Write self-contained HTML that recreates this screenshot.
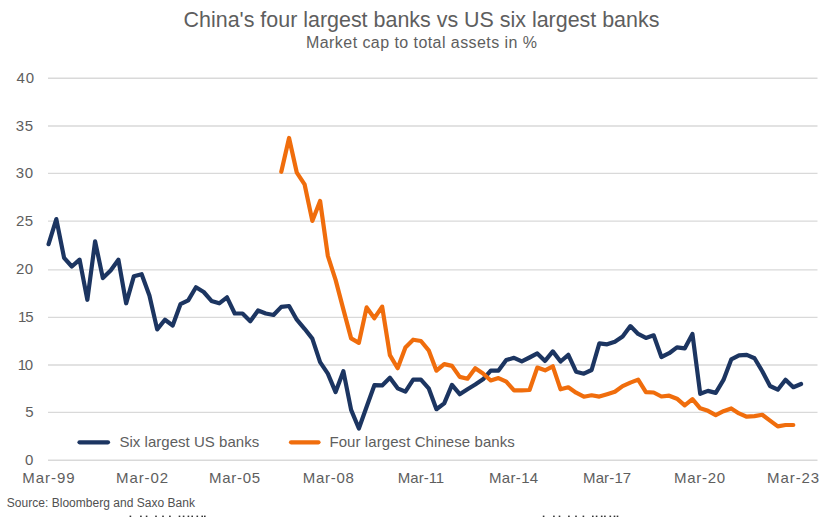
<!DOCTYPE html>
<html><head><meta charset="utf-8"><style>
html,body{margin:0;padding:0;background:#fff;}
body{width:835px;height:517px;overflow:hidden;}
svg{display:block;}
text{font-family:"Liberation Sans",sans-serif;fill:#5e5e5e;}
.ax{font-size:15px;}
.ttl{font-size:21.45px;}
.sub{font-size:16px;}
.lg{font-size:15px;}
.src{font-size:12px;fill:#505050;}
</style></head><body>
<svg width="835" height="517" viewBox="0 0 835 517">
<rect width="835" height="517" fill="#fff"/>
<line x1="48" x2="817.5" y1="460.24" y2="460.24" stroke="#d9d9d9" stroke-width="1.3"/>
<line x1="48" x2="817.5" y1="412.45" y2="412.45" stroke="#d9d9d9" stroke-width="1.3"/>
<line x1="48" x2="817.5" y1="365.00" y2="365.00" stroke="#d9d9d9" stroke-width="1.3"/>
<line x1="48" x2="817.5" y1="317.40" y2="317.40" stroke="#d9d9d9" stroke-width="1.3"/>
<line x1="48" x2="817.5" y1="269.80" y2="269.80" stroke="#d9d9d9" stroke-width="1.3"/>
<line x1="48" x2="817.5" y1="221.20" y2="221.20" stroke="#d9d9d9" stroke-width="1.3"/>
<line x1="48" x2="817.5" y1="173.40" y2="173.40" stroke="#d9d9d9" stroke-width="1.3"/>
<line x1="48" x2="817.5" y1="126.00" y2="126.00" stroke="#d9d9d9" stroke-width="1.3"/>
<line x1="48" x2="817.5" y1="78.24" y2="78.24" stroke="#d9d9d9" stroke-width="1.3"/>

<text x="183.60" y="27.20" class="ttl" textLength="475.80" lengthAdjust="spacing">China's four largest banks vs US six largest banks</text>
<text x="306.00" y="48.20" class="sub" textLength="231.00" lengthAdjust="spacing">Market cap to total assets in %</text>
<text x="119.40" y="446.60" class="lg" textLength="139.80" lengthAdjust="spacing">Six largest US banks</text>
<text x="329.40" y="446.60" class="lg" textLength="185.40" lengthAdjust="spacing">Four largest Chinese banks</text>
<text x="6.80" y="507.20" class="src" textLength="188.20" lengthAdjust="spacing">Source: Bloomberg and Saxo Bank</text>
<text x="22.20" y="483.20" class="ax" textLength="52.40" lengthAdjust="spacing">Mar-99</text>
<text x="116.00" y="483.20" class="ax" textLength="52.00" lengthAdjust="spacing">Mar-02</text>
<text x="209.00" y="483.20" class="ax" textLength="51.20" lengthAdjust="spacing">Mar-05</text>
<text x="302.80" y="483.20" class="ax" textLength="51.00" lengthAdjust="spacing">Mar-08</text>
<text x="397.80" y="483.20" class="ax" textLength="46.40" lengthAdjust="spacing">Mar-11</text>
<text x="489.00" y="483.20" class="ax" textLength="49.20" lengthAdjust="spacing">Mar-14</text>
<text x="583.00" y="483.20" class="ax" textLength="48.20" lengthAdjust="spacing">Mar-17</text>
<text x="674.00" y="483.20" class="ax" textLength="51.20" lengthAdjust="spacing">Mar-20</text>
<text x="767.00" y="483.20" class="ax" textLength="52.20" lengthAdjust="spacing">Mar-23</text>
<text x="25.00" y="464.84" class="ax">0</text>
<text x="25.20" y="417.05" class="ax">5</text>
<text x="17.80" y="369.60" class="ax" textLength="15.40" lengthAdjust="spacing">10</text>
<text x="18.00" y="322.00" class="ax" textLength="15.60" lengthAdjust="spacing">15</text>
<text x="16.00" y="274.40" class="ax" textLength="17.20" lengthAdjust="spacing">20</text>
<text x="16.00" y="225.80" class="ax" textLength="17.00" lengthAdjust="spacing">25</text>
<text x="15.80" y="178.00" class="ax" textLength="17.40" lengthAdjust="spacing">30</text>
<text x="15.80" y="130.60" class="ax" textLength="17.40" lengthAdjust="spacing">35</text>
<text x="16.60" y="82.84" class="ax" textLength="17.60" lengthAdjust="spacing">40</text>
<rect x="129.6" y="515.6" width="1.6" height="1.6" fill="#333"/><rect x="140.1" y="515.6" width="1.6" height="1.6" fill="#333"/><rect x="145.8" y="515.6" width="1.6" height="1.6" fill="#333"/><rect x="155.2" y="515.6" width="1.6" height="1.6" fill="#333"/><rect x="162.2" y="515.6" width="1.6" height="1.6" fill="#333"/><rect x="169.1" y="515.6" width="1.6" height="1.6" fill="#333"/><rect x="178.7" y="515.6" width="1.6" height="1.6" fill="#333"/><rect x="182.8" y="515.6" width="1.6" height="1.6" fill="#333"/><rect x="187.6" y="515.6" width="1.6" height="1.6" fill="#333"/><rect x="191.4" y="515.6" width="1.6" height="1.6" fill="#333"/><rect x="196.5" y="515.6" width="1.6" height="1.6" fill="#333"/><rect x="201.4" y="515.6" width="1.6" height="1.6" fill="#333"/><rect x="204.0" y="515.6" width="1.6" height="1.6" fill="#333"/><rect x="542.8" y="515.6" width="1.6" height="1.6" fill="#333"/><rect x="553.1" y="515.6" width="1.6" height="1.6" fill="#333"/><rect x="558.7" y="515.6" width="1.6" height="1.6" fill="#333"/><rect x="568.1" y="515.6" width="1.6" height="1.6" fill="#333"/><rect x="575.2" y="515.6" width="1.6" height="1.6" fill="#333"/><rect x="582.6" y="515.6" width="1.6" height="1.6" fill="#333"/><rect x="592.0" y="515.6" width="1.6" height="1.6" fill="#333"/><rect x="595.8" y="515.6" width="1.6" height="1.6" fill="#333"/><rect x="600.9" y="515.6" width="1.6" height="1.6" fill="#333"/><rect x="604.1" y="515.6" width="1.6" height="1.6" fill="#333"/><rect x="609.5" y="515.6" width="1.6" height="1.6" fill="#333"/><rect x="613.7" y="515.6" width="1.6" height="1.6" fill="#333"/><rect x="616.7" y="515.6" width="1.6" height="1.6" fill="#333"/><polyline fill="none" stroke="#1c3561" stroke-width="4.2" stroke-linejoin="round" stroke-linecap="round" points="48.57,244.2 56.33,219.1 64.09,257.8 71.84,266.5 79.60,259.7 87.36,299.8 95.12,241.4 102.87,278.1 110.63,270.4 118.39,259.7 126.15,303.3 133.90,276.2 141.66,274.2 149.42,295.5 157.18,329.4 164.93,319.7 172.69,325.5 180.45,304.2 188.21,300.4 195.96,287.2 203.72,292.0 211.48,300.9 219.24,303.3 226.99,297.3 234.75,313.5 242.51,313.5 250.27,321.3 258.03,310.5 265.78,313.5 273.54,315.0 281.30,306.9 289.06,306.0 296.81,319.7 304.57,328.8 312.33,338.6 320.09,362.1 327.84,373.6 335.60,392.1 343.36,371.2 351.12,409.9 358.87,428.5 366.63,406.8 374.39,385.2 382.15,385.4 389.90,377.8 397.66,388.3 405.42,391.7 413.18,379.6 420.93,379.6 428.69,388.3 436.45,409.2 444.21,403.4 451.97,384.9 459.72,394.2 467.48,389.2 475.24,384.5 483.00,379.3 490.75,370.6 498.51,370.6 506.27,360.1 514.03,357.8 521.78,361.4 529.54,357.5 537.30,353.4 545.06,360.9 552.81,351.4 560.57,361.5 568.33,354.8 576.09,371.7 583.84,373.7 591.60,370.0 599.36,343.4 607.12,344.3 614.87,341.7 622.63,336.5 630.39,326.1 638.15,333.9 645.91,337.9 653.66,335.3 661.42,357.0 669.18,353.2 676.94,347.4 684.69,348.4 692.45,333.9 700.21,393.8 707.97,390.9 715.72,392.9 723.48,379.9 731.24,359.4 739.00,355.4 746.75,354.9 754.51,358.2 762.27,371.3 770.03,386.0 777.78,389.7 785.54,379.8 793.30,387.2 801.06,384.0"/>
<polyline fill="none" stroke="#f06d0c" stroke-width="4.2" stroke-linejoin="round" stroke-linecap="round" points="281.30,171.8 289.06,138.0 296.81,172.7 304.57,184.3 312.33,220.9 320.09,200.9 327.84,255.9 335.60,279.9 343.36,309.4 351.12,338.4 358.87,342.9 366.63,307.4 374.39,318.2 382.15,306.6 389.90,355.1 397.66,368.2 405.42,347.4 413.18,339.7 420.93,341.0 428.69,350.3 436.45,370.7 444.21,364.1 451.97,365.9 459.72,376.9 467.48,378.7 475.24,368.3 483.00,373.5 490.75,380.5 498.51,378.1 506.27,381.6 514.03,390.3 521.78,390.3 529.54,390.0 537.30,367.6 545.06,370.3 552.81,366.3 560.57,389.3 568.33,387.3 576.09,392.7 583.84,396.7 591.60,395.3 599.36,396.6 607.12,394.2 614.87,391.8 622.63,386.1 630.39,382.6 638.15,379.6 645.91,392.1 653.66,392.5 661.42,396.5 669.18,395.7 676.94,398.7 684.69,405.4 692.45,399.2 700.21,408.3 707.97,410.8 715.72,415.1 723.48,411.2 731.24,408.4 739.00,413.4 746.75,416.7 754.51,416.1 762.27,414.8 770.03,420.6 777.78,426.4 785.54,425.0 793.30,425.0"/>
<line x1="79.5" x2="108" y1="442.3" y2="442.3" stroke="#1c3561" stroke-width="4.2" stroke-linecap="round"/>
<line x1="291" x2="318.5" y1="442.3" y2="442.3" stroke="#f06d0c" stroke-width="4.2" stroke-linecap="round"/>
</svg>
</body></html>
